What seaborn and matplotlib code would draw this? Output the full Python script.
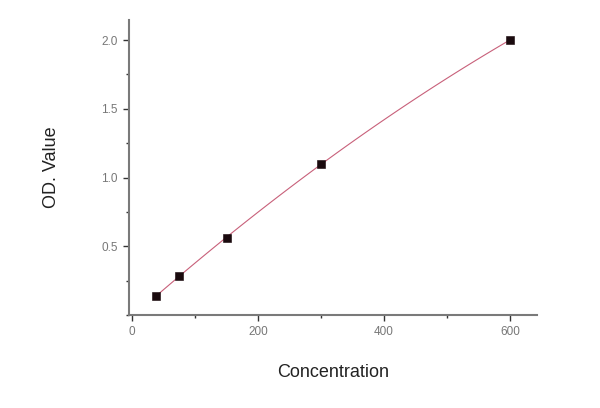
import matplotlib
matplotlib.use("Agg")
import matplotlib.pyplot as plt
import seaborn as sns
import pandas as pd
from matplotlib.ticker import MultipleLocator

concentration = [37.5, 75, 150, 300, 600]
od_value = [0.14, 0.28, 0.56, 1.10, 2.00]
x_ticks = [0, 200, 400, 600]
y_ticks = [0.5, 1.0, 1.5, 2.0]

df = pd.DataFrame({"Concentration": concentration, "OD. Value": od_value})

sns.set_theme(style="white")
plt.rcParams["font.family"] = ["Liberation Sans", "DejaVu Sans"]

fig = plt.figure(figsize=(6, 4.08), dpi=100)
ax = fig.add_axes([0.215, 0.228, 0.68, 0.723])

sns.regplot(data=df, x="Concentration", y="OD. Value", order=2, ci=None,
            scatter=False, truncate=True, ax=ax,
            line_kws={"color": "#c8607a", "lw": 0.8})
sns.scatterplot(data=df, x="Concentration", y="OD. Value", marker="s", s=28,
                color="#1a0a0e", edgecolor="#1a0a0e", ax=ax, zorder=5)

ax.set_xlim(-5, 643)
ax.set_ylim(0.0, 2.146)
ax.set_xticks(x_ticks)
ax.set_yticks(y_ticks)
ax.set_yticklabels([f"{v:.1f}" for v in y_ticks])
ax.xaxis.set_minor_locator(MultipleLocator(100))
ax.yaxis.set_minor_locator(MultipleLocator(0.25))

for s in ["top", "right"]:
    ax.spines[s].set_visible(False)
for s in ["left", "bottom"]:
    ax.spines[s].set_color("#7a7a7a")
    ax.spines[s].set_linewidth(1.5)

ax.tick_params(which="major", direction="out", length=4, width=1, color="#333333",
               labelsize=8.5, labelcolor="#777777", left=True, bottom=True, pad=4)
ax.tick_params(which="minor", direction="out", length=2, width=1, color="#333333",
               left=True, bottom=True)

ax.set_xlabel("Concentration", fontsize=13, color="#222222", labelpad=19)
ax.set_ylabel("OD. Value", fontsize=13, color="#222222", labelpad=30)

fig.savefig("out.png", dpi=100)
